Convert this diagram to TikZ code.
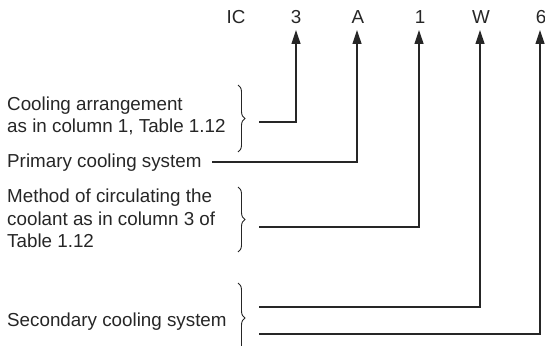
\documentclass[tikz,border=0pt]{standalone}
\usepackage{fontspec}
\setmainfont{Liberation Sans}
\usetikzlibrary{arrows.meta,decorations.pathreplacing}
\begin{document}
\begin{tikzpicture}[x=1pt,y=-1pt,
  lbl/.style={anchor=base west,inner sep=0pt,font=\fontsize{18.8}{22}\selectfont,text=black!85},
  head/.style={anchor=base,inner sep=0pt,font=\fontsize{18.8}{22}\selectfont,text=black!85},
  conn/.style={line width=1.2pt,draw=black!85},
  arr/.style={conn,-{Triangle[length=14pt,width=9pt]}},
  brc/.style={line width=0.9pt,draw=black!85,decorate,decoration={brace,amplitude=7pt,raise=0pt}}]
\useasboundingbox (0,0) rectangle (545,345);
\clip (0,0) rectangle (545,345);
% header
\node[head] (ic) at (236,24) {IC};
\node[head] (h3) at (296,24) {3};
\node[head] (hA) at (358,24) {A};
\node[head] (h1) at (420,24) {1};
\node[head] (hW) at (481,24) {W};
\node[head] (h6) at (541,24) {6};
\coordinate (t3) at (296,30);
\coordinate (tA) at (357,30);
\coordinate (t1) at (419,30);
\coordinate (tW) at (480,30);
\coordinate (t6) at (540,30);
% labels
\node[lbl] (l1a) at (7,110) {Cooling arrangement};
\node[lbl] (l1b) at (7,132) {as in column 1, Table 1.12};
\node[lbl] (l2) at (7,167.5) {Primary cooling system};
\node[lbl] (l3a) at (7,202) {Method of circulating the};
\node[lbl] (l3b) at (7,225) {coolant as in column 3 of};
\node[lbl] (l3c) at (7,247) {Table 1.12};
\node[lbl] (l4) at (7,326) {Secondary cooling system};
% braces
\draw[brc] (238,85) -- (238,152);
\draw[brc] (238,187) -- (238,252);
\draw[brc] (238,283) -- (238,353);
% connectors
\coordinate (s3) at (259,122);
\coordinate (sA) at (212,162);
\coordinate (s1) at (259,227);
\coordinate (sW) at (259,307);
\coordinate (s6) at (259,334);
\draw[arr] (s3) -| (t3);
\draw[arr] (sA) -| (tA);
\draw[arr] (s1) -| (t1);
\draw[arr] (sW) -| (tW);
\draw[arr] (s6) -| (t6);
\end{tikzpicture}
\end{document}
